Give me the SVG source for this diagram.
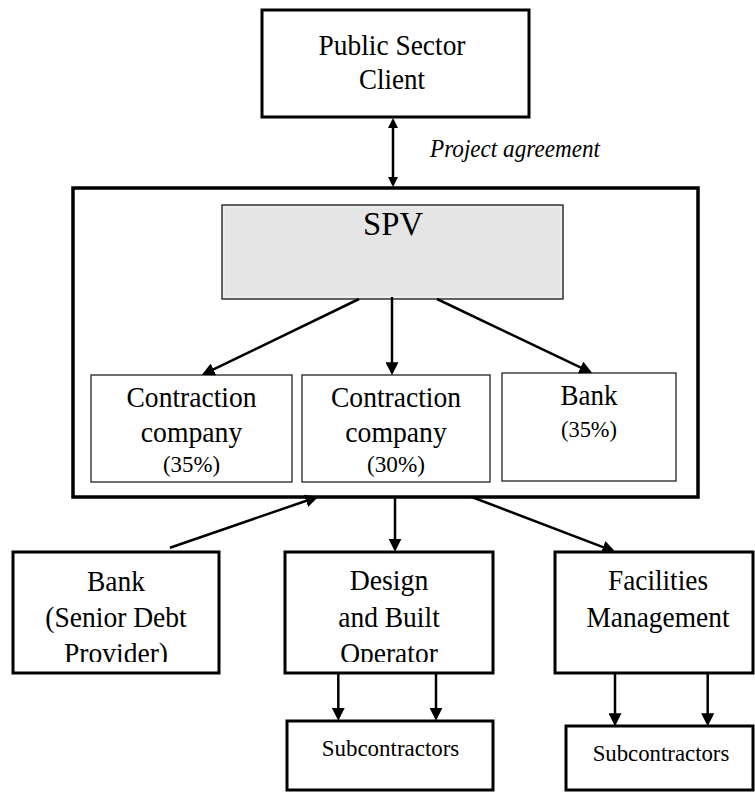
<svg xmlns="http://www.w3.org/2000/svg" width="755" height="792" viewBox="0 0 755 792">
<style>
text{font-family:"Liberation Serif","Times New Roman",serif;fill:#000;text-anchor:middle}
.t{font-size:30px}
.s{font-size:24px}
.i{font-size:26px;font-style:italic;text-anchor:start}
.b{font-size:34px}
.thick{fill:#fff;stroke:#000;stroke-width:3}
.thin{fill:#fff;stroke:#222;stroke-width:1.3}
.c line{stroke:#000;stroke-width:2.5}
</style>
<defs>
<marker id="ah" viewBox="0 0 12 12" refX="9" refY="6" markerWidth="13" markerHeight="13" markerUnits="userSpaceOnUse" orient="auto">
<path d="M0,0 L12,6 L0,12 z" fill="#000"/>
</marker>
<marker id="as" viewBox="0 0 12 12" refX="9" refY="6" markerWidth="11" markerHeight="10" markerUnits="userSpaceOnUse" orient="auto-start-reverse">
<path d="M0,0 L12,6 L0,12 z" fill="#000"/>
</marker>
<clipPath id="cl"><rect x="0" y="0" width="755" height="662"/></clipPath>
</defs>

<g id="public-client">
<rect class="thick" x="262" y="10" width="267" height="107"/>
<text class="t" x="392" y="55" textLength="147" lengthAdjust="spacingAndGlyphs">Public Sector</text>
<text class="t" x="392" y="89" textLength="66" lengthAdjust="spacingAndGlyphs">Client</text>
</g>

<g id="spv-container">
<rect x="73" y="188" width="625" height="309" fill="none" stroke="#000" stroke-width="3.5"/>
</g>

<g id="spv">
<rect x="222" y="205" width="341" height="94" fill="#e5e5e5" stroke="#333" stroke-width="1.5"/>
<rect x="224" y="207" width="337" height="90" fill="none" stroke="#f4f4f4" stroke-width="1"/>
<text class="b" x="393" y="235" textLength="60" lengthAdjust="spacingAndGlyphs">SPV</text>
</g>

<g id="contraction-1">
<rect class="thin" x="91" y="375" width="201" height="107"/>
<text class="t" x="191.5" y="406.7" textLength="130" lengthAdjust="spacingAndGlyphs">Contraction</text>
<text class="t" x="191.5" y="441.7" textLength="101.5" lengthAdjust="spacingAndGlyphs">company</text>
<text class="s" x="191.5" y="471.7" textLength="57" lengthAdjust="spacingAndGlyphs">(35%)</text>
</g>

<g id="contraction-2">
<rect class="thin" x="302" y="375" width="188" height="107"/>
<text class="t" x="396" y="406.7" textLength="130" lengthAdjust="spacingAndGlyphs">Contraction</text>
<text class="t" x="396" y="441.7" textLength="101.5" lengthAdjust="spacingAndGlyphs">company</text>
<text class="s" x="396" y="471.7" textLength="58" lengthAdjust="spacingAndGlyphs">(30%)</text>
</g>

<g id="bank-equity">
<rect class="thin" x="502" y="373" width="174" height="108"/>
<text class="t" x="589" y="405" textLength="57" lengthAdjust="spacingAndGlyphs">Bank</text>
<text class="s" x="589" y="436.7" textLength="56" lengthAdjust="spacingAndGlyphs">(35%)</text>
</g>

<g id="bank-senior">
<rect class="thick" x="13" y="552" width="206" height="121"/>
<g clip-path="url(#cl)">
<text class="t" x="116" y="590.7" textLength="58" lengthAdjust="spacingAndGlyphs">Bank</text>
<text class="t" x="116" y="626.7" textLength="141.5" lengthAdjust="spacingAndGlyphs">(Senior Debt</text>
<text class="t" x="116" y="662.7" textLength="104" lengthAdjust="spacingAndGlyphs">Provider)</text>
</g>
</g>

<g id="design-build">
<rect class="thick" x="285" y="552" width="208" height="121"/>
<g clip-path="url(#cl)">
<text class="t" x="389" y="590" textLength="78.5" lengthAdjust="spacingAndGlyphs">Design</text>
<text class="t" x="389" y="626.7" textLength="101.6" lengthAdjust="spacingAndGlyphs">and Built</text>
<text class="t" x="389" y="662.7" textLength="97.7" lengthAdjust="spacingAndGlyphs">Operator</text>
</g>
</g>

<g id="facilities">
<rect class="thick" x="555" y="552" width="198" height="121"/>
<text class="t" x="658" y="590" textLength="100" lengthAdjust="spacingAndGlyphs">Facilities</text>
<text class="t" x="658" y="626.7" textLength="143" lengthAdjust="spacingAndGlyphs">Management</text>
</g>

<g id="subcontractors-1">
<rect class="thick" x="287" y="721" width="206" height="69"/>
<text class="s" x="390.5" y="756" font-size="25" textLength="137.6" lengthAdjust="spacingAndGlyphs">Subcontractors</text>
</g>

<g id="subcontractors-2">
<rect class="thick" x="566" y="726" width="187" height="64"/>
<text class="s" x="661" y="761" font-size="25" textLength="136.6" lengthAdjust="spacingAndGlyphs">Subcontractors</text>
</g>

<g id="connectors" class="c">
<line x1="393" y1="120.5" x2="393" y2="184.5" marker-start="url(#as)" marker-end="url(#as)"/>
<text class="i" x="430" y="157" textLength="170" lengthAdjust="spacingAndGlyphs">Project agreement</text>
<line x1="359" y1="299" x2="204.7" y2="373.7" marker-end="url(#ah)"/>
<line x1="392" y1="297" x2="392" y2="372" marker-end="url(#ah)"/>
<line x1="437" y1="299" x2="589.3" y2="371.7" marker-end="url(#ah)"/>
<line x1="170" y1="547.7" x2="315.2" y2="497.7" marker-end="url(#ah)"/>
<line x1="395" y1="497" x2="395" y2="548.5" marker-end="url(#ah)"/>
<line x1="471.7" y1="497" x2="612.2" y2="550.6" marker-end="url(#ah)"/>
<line x1="338.3" y1="673" x2="338.3" y2="717.5" marker-end="url(#ah)"/>
<line x1="436" y1="673" x2="436" y2="717.5" marker-end="url(#ah)"/>
<line x1="615" y1="673" x2="615" y2="723" marker-end="url(#ah)"/>
<line x1="707.7" y1="673" x2="707.7" y2="723" marker-end="url(#ah)"/>
</g>
</svg>
